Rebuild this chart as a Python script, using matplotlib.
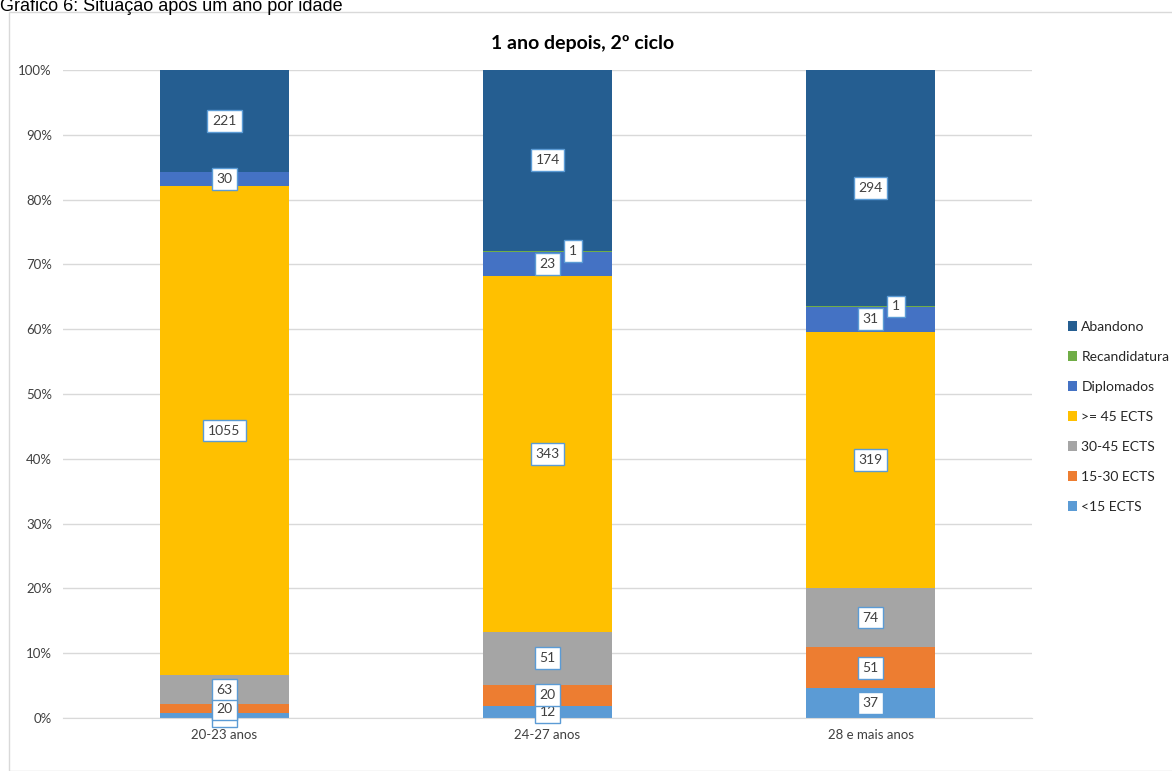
import numpy as np
import matplotlib.pyplot as plt
from matplotlib.patches import Rectangle

categories = ['20-23 anos', '24-27 anos', '28 e mais anos']
series = ['<15 ECTS', '15-30 ECTS', '30-45 ECTS', '>= 45 ECTS',
          'Diplomados', 'Recandidatura', 'Abandono']
counts = {
    '<15 ECTS':      [10, 12, 37],
    '15-30 ECTS':    [20, 20, 51],
    '30-45 ECTS':    [63, 51, 74],
    '>= 45 ECTS':    [1055, 343, 319],
    'Diplomados':    [30, 23, 31],
    'Recandidatura': [0, 1, 1],
    'Abandono':      [221, 174, 294],
}
colors = {
    '<15 ECTS': '#5B9BD5', '15-30 ECTS': '#ED7D31', '30-45 ECTS': '#A5A5A5',
    '>= 45 ECTS': '#FFC000', 'Diplomados': '#4472C4',
    'Recandidatura': '#70AD47', 'Abandono': '#255E91',
}

data = np.array([counts[s] for s in series], dtype=float)
totals = data.sum(axis=0)
pct = data / totals * 100

fig = plt.figure(figsize=(11.72, 7.71), dpi=100)
fig.patches.append(Rectangle((9 / 1172, 0), 1, 1 - 12 / 771, transform=fig.transFigure,
                             fill=False, edgecolor='#D9D9D9', linewidth=1))
fig.text(0.0, 1.003, 'Gráfico 6: Situação após um ano por idade', ha='left', va='top',
         fontsize=13, family='Liberation Sans', color='black')

ax = fig.add_axes([63 / 1172, 1 - 718 / 771, (1032 - 63) / 1172, (718 - 70) / 771])
x = np.arange(len(categories))
bottom = np.zeros(len(categories))
handles = []
for i, s in enumerate(series):
    h = ax.bar(x, pct[i], 0.4, bottom=bottom, color=colors[s], label=s, zorder=2)
    handles.append(h)
    for j in range(len(categories)):
        v = counts[s][j]
        if v == 0:
            continue
        cx = x[j]
        cy = bottom[j] + pct[i][j] / 2
        if s == 'Recandidatura':
            cx += 0.08
        ax.text(cx, cy, str(v), ha='center', va='center', fontsize=10,
                family='Lato', color='#404040', zorder=5,
                bbox=dict(boxstyle='square,pad=0.35', facecolor='white',
                          edgecolor='#5B9BD5', linewidth=1))
    bottom += pct[i]

ax.set_xlim(-0.5, 2.5)
ax.set_ylim(0, 100)
ax.set_yticks(np.arange(0, 101, 10))
ax.set_yticklabels([f'{t}%' for t in range(0, 101, 10)])
ax.set_xticks(x)
ax.set_xticklabels(categories)
ax.grid(axis='y', color='#D9D9D9', linewidth=1, zorder=0)
ax.set_axisbelow(True)
for sp in ['top', 'right', 'left']:
    ax.spines[sp].set_visible(False)
ax.spines['bottom'].set_color('#D9D9D9')
ax.tick_params(axis='both', length=0, labelsize=9.5, colors='#404040', pad=8)
for lbl in ax.get_xticklabels() + ax.get_yticklabels():
    lbl.set_family('Lato')

fig.text(583 / 1172, 1 - 43 / 771, '1 ano depois, 2º ciclo', ha='center', va='center',
         fontsize=14, fontweight='bold', family='Lato', color='black')

leg = fig.legend(handles[::-1], series[::-1], loc='center left',
                 bbox_to_anchor=(1055 / 1172, 1 - 417 / 771), frameon=False,
                 prop={'family': 'Lato', 'size': 10}, handlelength=0.7,
                 handleheight=0.7, handletextpad=0.3, labelspacing=1.3)
for t in leg.get_texts():
    t.set_color('#262626')

fig.savefig('out.png', dpi=100)
